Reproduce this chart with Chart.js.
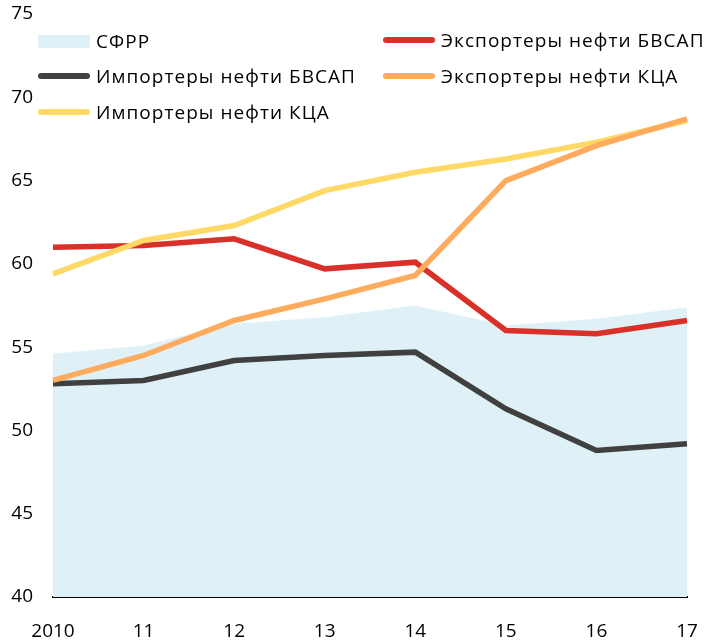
<!DOCTYPE html>
<html>
<head>
<meta charset="utf-8">
<script src="https://cdn.jsdelivr.net/npm/chart.js@4"></script>
<style>
  html, body { margin: 0; padding: 0; background: #fff; }
  #wrap { position: relative; width: 705px; height: 642px; }
  #legend { position: absolute; left: 0; top: 0; font-family: "Open Sans", sans-serif; font-size: 19px; color: #000; }
  .item { position: absolute; display: flex; align-items: center; white-space: nowrap; letter-spacing: 1.05px; }
  .swatch { width: 52px; margin-right: 6px; }
</style>
</head>
<body>
<div id="wrap">
  <canvas id="chart" width="705" height="642"></canvas>
  <div id="legend"></div>
</div>
<script>
const years = ['2010', '11', '12', '13', '14', '15', '16', '17'];
const sfrr = [54.6, 55.1, 56.4, 56.8, 57.5, 56.3, 56.7, 57.4];
const exportersAsia = [61.0, 61.1, 61.5, 59.7, 60.1, 56.0, 55.8, 56.6];
const importersAsia = [52.8, 53.0, 54.2, 54.5, 54.7, 51.3, 48.8, 49.2];
const exportersCca = [53.0, 54.5, 56.6, 57.9, 59.3, 65.0, 67.1, 68.7];
const importersCca = [59.4, 61.4, 62.3, 64.4, 65.5, 66.3, 67.3, 68.6];

function line(label, data, color, order) {
    return {
        label: label,
        data: data,
        borderColor: color,
        backgroundColor: color,
        borderWidth: 5.5,
        pointRadius: 0,
        tension: 0,
        fill: false,
        order: order
    };
}

const datasets = [
    {
        label: 'СФРР',
        data: sfrr,
        borderWidth: 0,
        borderColor: 'rgba(0,0,0,0)',
        backgroundColor: '#dff1f7',
        pointRadius: 0,
        fill: 'start',
        order: 5
    },
    line('Экспортеры нефти БВСАП', exportersAsia, '#d9312a', 4),
    line('Импортеры нефти БВСАП', importersAsia, '#404040', 3),
    line('Экспортеры нефти КЦА', exportersCca, '#ffab5e', 1),
    line('Импортеры нефти КЦА', importersCca, '#ffd966', 2)
];

const ctx = document.getElementById('chart').getContext('2d');
const chart = new Chart(ctx, {
    type: 'line',
    data: { labels: years, datasets: datasets },
    options: {
        responsive: false,
        animation: false,
        layout: { padding: { top: 14, right: 18, left: 0, bottom: 0 } },
        plugins: { legend: { display: false }, tooltip: { enabled: false } },
        scales: {
            x: {
                offset: false,
                grid: { display: false, drawTicks: false },
                border: { display: true, color: '#000', width: 2 },
                ticks: {
                    color: '#000',
                    padding: 23,
                    maxRotation: 0,
                    autoSkip: false,
                    font: { family: 'Open Sans', size: 19 }
                },
                afterFit: function(scale) {
                    scale.height = 45;
                    scale.paddingLeft = 0;
                    scale.paddingRight = 0;
                }
            },
            y: {
                min: 40,
                max: 75,
                grid: { display: false, drawTicks: false },
                border: { display: false },
                ticks: {
                    stepSize: 5,
                    color: '#000',
                    padding: 20,
                    font: { family: 'Open Sans', size: 19 }
                },
                afterFit: function(scale) {
                    scale.width = 53;
                    scale.paddingTop = 0;
                    scale.paddingBottom = 0;
                }
            }
        }
    }
});

// legend laid out in two columns like the original
const legendPos = [
    { x: 38, y: 41 },
    { x: 383, y: 40 },
    { x: 38, y: 76 },
    { x: 383, y: 76 },
    { x: 38, y: 112 }
];
const legendEl = document.getElementById('legend');
chart.data.datasets.forEach(function(ds, i) {
    const item = document.createElement('div');
    item.className = 'item';
    item.style.left = legendPos[i].x + 'px';
    item.style.top = (legendPos[i].y - 13) + 'px';
    item.style.height = '26px';
    const sw = document.createElement('span');
    sw.className = 'swatch';
    if (i === 0) {
        sw.style.height = '13px';
        sw.style.background = ds.backgroundColor;
    } else {
        sw.style.height = '6px';
        sw.style.borderRadius = '3px';
        sw.style.background = ds.borderColor;
    }
    const txt = document.createElement('span');
    txt.textContent = ds.label;
    item.appendChild(sw);
    item.appendChild(txt);
    legendEl.appendChild(item);
});
</script>
</body>
</html>
